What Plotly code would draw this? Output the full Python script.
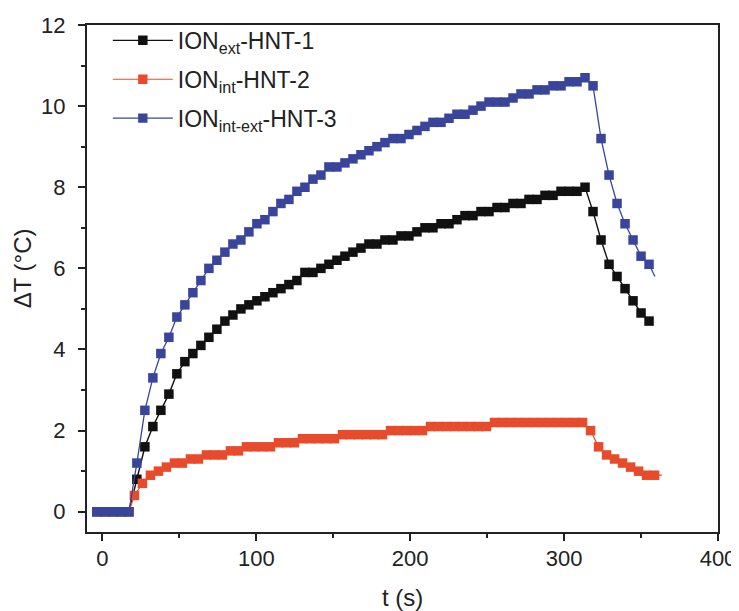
import plotly.graph_objects as go

# ---- data ----
t_ext = [-3.6, 1.6, 6.8, 12.0, 17.2, 22.4, 27.6, 32.8, 38.0, 43.2, 48.4, 53.6, 58.8, 64.0, 69.2,
         74.4, 79.6, 84.8, 90.0, 95.2, 100.4, 105.6, 110.8, 116.0, 121.2, 126.4, 131.6, 136.8,
         142.0, 147.2, 152.4, 157.6, 162.8, 168.0, 173.2, 178.4, 183.6, 188.8, 194.0, 199.2,
         204.4, 209.6, 214.8, 220.0, 225.2, 230.4, 235.6, 240.8, 246.0, 251.2, 256.4, 261.6,
         266.8, 272.0, 277.2, 282.4, 287.6, 292.8, 298.0, 303.2, 308.4, 313.6, 318.8, 324.0,
         329.2, 334.4, 339.6, 344.8, 350.0, 355.2]
dT_ext = [0, 0, 0, 0, 0, 0.8, 1.6, 2.1, 2.5, 2.9, 3.4, 3.7, 3.9, 4.1, 4.3,
          4.5, 4.7, 4.85, 5.0, 5.1, 5.2, 5.3, 5.4, 5.5, 5.6, 5.7, 5.9, 5.9,
          6.0, 6.1, 6.2, 6.3, 6.4, 6.5, 6.6, 6.6, 6.7, 6.7, 6.8, 6.8,
          6.9, 7.0, 7.0, 7.1, 7.1, 7.2, 7.3, 7.3, 7.4, 7.4, 7.5, 7.5,
          7.6, 7.6, 7.7, 7.7, 7.8, 7.8, 7.9, 7.9, 7.9, 8.0, 7.4, 6.7,
          6.1, 5.8, 5.5, 5.2, 4.9, 4.7]

t_int = [-3.6, 1.6, 6.8, 12.0, 17.2, 20.8, 26.0, 31.2, 36.4, 41.6, 46.8, 52.0, 57.2, 62.4,
         67.6, 72.8, 78.0, 83.2, 88.4, 93.6, 98.8, 104.0, 109.2, 114.4, 119.6, 124.8, 130.0,
         135.2, 140.4, 145.6, 150.8, 156.0, 161.2, 166.4, 171.6, 176.8, 182.0, 187.2, 192.4,
         197.6, 202.8, 208.0, 213.2, 218.4, 223.6, 228.8, 234.0, 239.2, 244.4, 249.6, 254.8,
         260.0, 265.2, 270.4, 275.6, 280.8, 286.0, 291.2, 296.4, 301.6, 306.8, 312.0, 317.2,
         322.4, 327.6, 332.8, 338.0, 343.2, 348.4, 353.6, 358.8, 363.5]
dT_int = [0, 0, 0, 0, 0, 0.4, 0.7, 0.9, 1.0, 1.1, 1.2, 1.2, 1.3, 1.3,
          1.4, 1.4, 1.4, 1.5, 1.5, 1.6, 1.6, 1.6, 1.6, 1.7, 1.7, 1.7, 1.8,
          1.8, 1.8, 1.8, 1.8, 1.9, 1.9, 1.9, 1.9, 1.9, 1.9, 2.0, 2.0,
          2.0, 2.0, 2.0, 2.1, 2.1, 2.1, 2.1, 2.1, 2.1, 2.1, 2.1, 2.2,
          2.2, 2.2, 2.2, 2.2, 2.2, 2.2, 2.2, 2.2, 2.2, 2.2, 2.2, 2.0,
          1.6, 1.4, 1.3, 1.2, 1.1, 1.0, 0.9, 0.9, 0.9]

t_intext = [-3.6, 1.6, 6.8, 12.0, 17.2, 22.4, 27.6, 32.8, 38.0, 43.2, 48.4, 53.6, 58.8, 64.0,
            69.2, 74.4, 79.6, 84.8, 90.0, 95.2, 100.4, 105.6, 110.8, 116.0, 121.2, 126.4, 131.6,
            136.8, 142.0, 147.2, 152.4, 157.6, 162.8, 168.0, 173.2, 178.4, 183.6, 188.8, 194.0,
            199.2, 204.4, 209.6, 214.8, 220.0, 225.2, 230.4, 235.6, 240.8, 246.0, 251.2, 256.4,
            261.6, 266.8, 272.0, 277.2, 282.4, 287.6, 292.8, 298.0, 303.2, 308.4, 313.6, 318.8,
            324.0, 329.2, 334.4, 339.6, 344.8, 350.0, 355.2, 359.0]
dT_intext = [0, 0, 0, 0, 0, 1.2, 2.5, 3.3, 3.9, 4.3, 4.8, 5.1, 5.4, 5.7,
             6.0, 6.2, 6.4, 6.6, 6.7, 6.9, 7.1, 7.2, 7.4, 7.6, 7.7, 7.9, 8.0,
             8.2, 8.3, 8.5, 8.5, 8.6, 8.7, 8.8, 8.9, 9.0, 9.1, 9.2, 9.2,
             9.3, 9.4, 9.5, 9.6, 9.6, 9.7, 9.8, 9.8, 9.9, 10.0, 10.1, 10.1,
             10.1, 10.2, 10.3, 10.3, 10.4, 10.4, 10.5, 10.5, 10.6, 10.6, 10.7, 10.5,
             9.2, 8.3, 7.6, 7.1, 6.7, 6.3, 6.1, 5.8]

names = ["ION<sub>ext</sub>-HNT-1", "ION<sub>int</sub>-HNT-2", "ION<sub>int-ext</sub>-HNT-3"]
colors = ["#111111", "#E84A2C", "#38459A"]
x_ticks = [0, 100, 200, 300, 400]
y_ticks = [0, 2, 4, 6, 8, 10, 12]
x_title = "t (s)"
y_title = "ΔT (°C)"

FONT = "Liberation Sans, Arial, sans-serif"
INK = "#222222"

def sizes(n, last_hidden):
    s = [9.5] * n
    if last_hidden:
        s[-1] = 0
    return s

fig = go.Figure()
series = [(t_ext, dT_ext, False, 1.4), (t_int, dT_int, True, 1.2), (t_intext, dT_intext, True, 1.3)]
for i, (tx, ty, hide_last, lw) in enumerate(series):
    fig.add_trace(go.Scatter(
        x=tx, y=ty, mode="lines+markers", name=names[i], legendgroup=str(i),
        line=dict(color=colors[i], width=lw),
        marker=dict(symbol="square", size=sizes(len(tx), hide_last), color=colors[i],
                    opacity=1, line=dict(width=0)),
    ))

axis_common = dict(
    showline=True, linecolor=INK, linewidth=2, mirror=True,
    ticks="outside", ticklen=7, tickwidth=2, tickcolor=INK,
    showgrid=False, zeroline=False, automargin=False,
    tickfont=dict(family=FONT, size=22, color=INK),
)

fig.update_xaxes(range=[-10, 400], tickvals=x_ticks, ticklabelstandoff=-1,
                 minor=dict(ticks="outside", ticklen=4, tickwidth=2, tickcolor=INK,
                            tickvals=[50, 150, 250, 350]),
                 **axis_common)
fig.update_yaxes(range=[-0.5, 12], tickvals=y_ticks, ticklabelstandoff=8,
                 minor=dict(ticks="outside", ticklen=4, tickwidth=2, tickcolor=INK,
                            tickvals=[1, 3, 5, 7, 9, 11]),
                 **axis_common)

fig.add_annotation(text=x_title, xref="paper", yref="paper", x=0.5, y=-0.13,
                   xanchor="center", yanchor="middle", showarrow=False,
                   font=dict(family=FONT, size=24, color=INK))
fig.add_annotation(text=y_title, xref="paper", yref="paper", x=-0.103, y=0.52,
                   xanchor="center", yanchor="middle", showarrow=False, textangle=-90,
                   font=dict(family=FONT, size=24, color=INK))

# page body has an 8px default margin, so the figure is sized to the remaining window
fig.update_layout(
    width=731, height=603,
    margin=dict(l=79, r=21, t=16, b=79),
    plot_bgcolor="white", paper_bgcolor="white",
    legend=dict(x=0.033, y=1.01, xanchor="left", yanchor="top",
                font=dict(family=FONT, size=23, color=INK),
                bgcolor="rgba(0,0,0,0)", tracegroupgap=6, itemwidth=60),
    showlegend=True,
)

fig.write_html("out.html")
